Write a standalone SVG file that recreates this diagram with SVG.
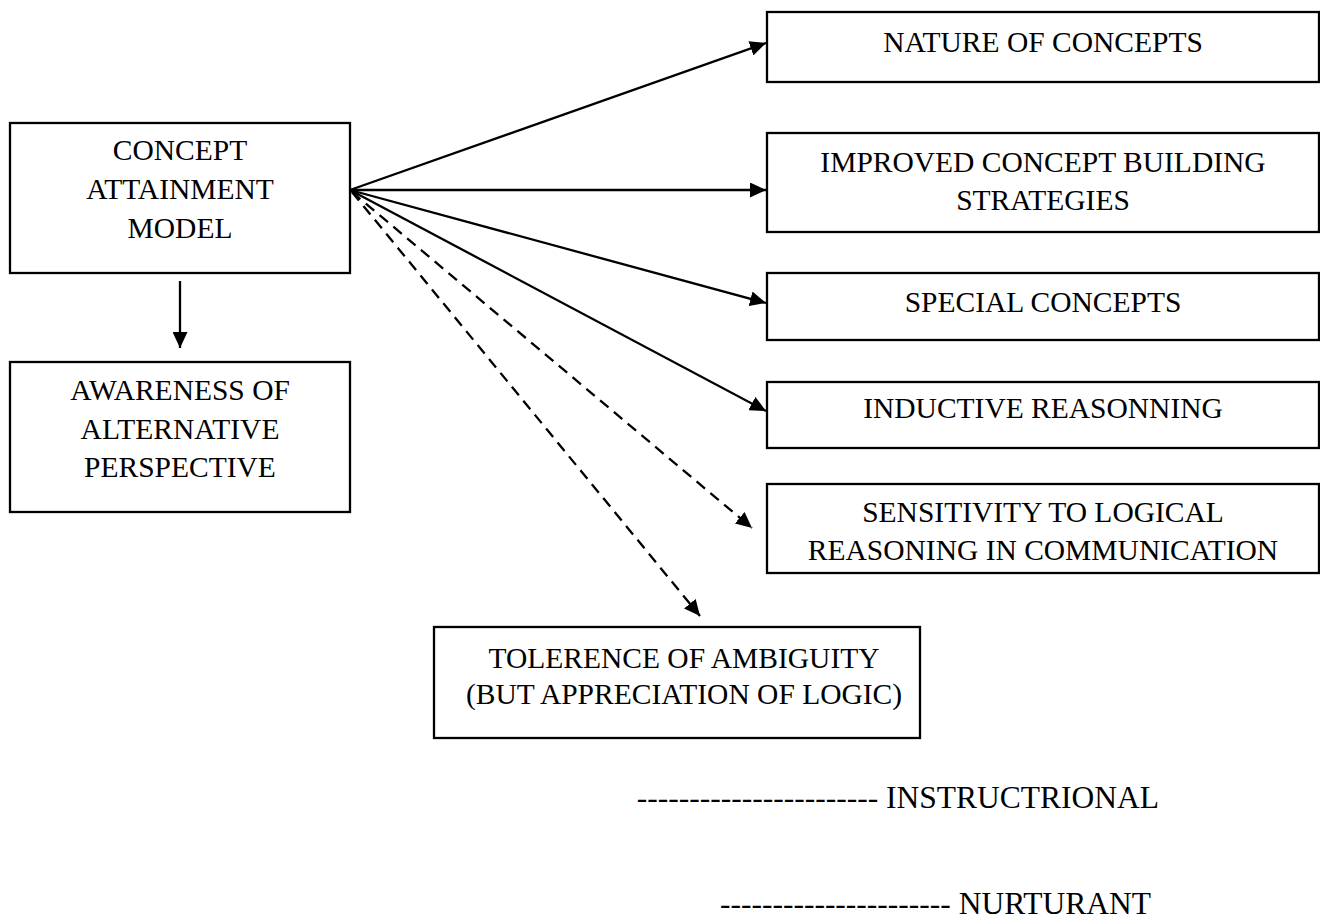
<svg xmlns="http://www.w3.org/2000/svg" width="1320" height="920" viewBox="0 0 1320 920">
  <style>
    .box { fill: #ffffff; stroke: #000000; stroke-width: 2.3; }
    .lbl { font-family: "Liberation Serif", "Times New Roman", serif; font-size: 29.5px; fill: #000000; text-anchor: middle; }
    .legend { font-family: "Liberation Serif", "Times New Roman", serif; font-size: 31.5px; fill: #000000; text-anchor: end; }
    .link { fill: none; stroke: #000000; stroke-width: 2.3; marker-end: url(#head); }
    .dashed { stroke-dasharray: 11 7; }
  </style>
  <defs>
    <marker id="head" markerUnits="userSpaceOnUse" markerWidth="17" markerHeight="15" refX="16" refY="7.5" orient="auto">
      <path d="M0,0 L16,7.5 L0,15 z" fill="#000000" stroke="none"/>
    </marker>
  </defs>

  <rect width="1320" height="920" fill="#ffffff"/>

  <!-- connectors -->
  <g id="connectors">
    <line class="link" x1="350" y1="190" x2="766" y2="43"/>
    <line class="link" x1="350" y1="190" x2="766" y2="190"/>
    <line class="link" x1="350" y1="190" x2="766" y2="303"/>
    <line class="link" x1="350" y1="190" x2="766" y2="411"/>
    <line class="link dashed" x1="352" y1="192" x2="752" y2="528"/>
    <line class="link dashed" x1="352" y1="192" x2="700" y2="616"/>
    <line class="link" x1="180" y1="281" x2="180" y2="348"/>
  </g>

  <g id="concept-attainment-model">
    <rect class="box" x="10" y="123" width="340" height="150"/>
    <text class="lbl" x="180" y="160">CONCEPT</text>
    <text class="lbl" x="180" y="199">ATTAINMENT</text>
    <text class="lbl" x="180" y="238">MODEL</text>
  </g>

  <g id="awareness">
    <rect class="box" x="10" y="362" width="340" height="150"/>
    <text class="lbl" x="180" y="400">AWARENESS OF</text>
    <text class="lbl" x="180" y="439">ALTERNATIVE</text>
    <text class="lbl" x="180" y="477">PERSPECTIVE</text>
  </g>

  <g id="nature-of-concepts">
    <rect class="box" x="767" y="12" width="552" height="70"/>
    <text class="lbl" x="1043" y="52">NATURE OF CONCEPTS</text>
  </g>

  <g id="improved-strategies">
    <rect class="box" x="767" y="133" width="552" height="99"/>
    <text class="lbl" x="1043" y="172">IMPROVED CONCEPT BUILDING</text>
    <text class="lbl" x="1043" y="210">STRATEGIES</text>
  </g>

  <g id="special-concepts">
    <rect class="box" x="767" y="273" width="552" height="67"/>
    <text class="lbl" x="1043" y="312">SPECIAL CONCEPTS</text>
  </g>

  <g id="inductive-reasoning">
    <rect class="box" x="767" y="382" width="552" height="66"/>
    <text class="lbl" x="1043" y="418">INDUCTIVE REASONNING</text>
  </g>

  <g id="sensitivity">
    <rect class="box" x="767" y="484" width="552" height="89"/>
    <text class="lbl" x="1043" y="522">SENSITIVITY TO LOGICAL</text>
    <text class="lbl" x="1043" y="560">REASONING IN COMMUNICATION</text>
  </g>

  <g id="tolerance">
    <rect class="box" x="434" y="627" width="486" height="111"/>
    <text class="lbl" x="684" y="668">TOLERENCE OF AMBIGUITY</text>
    <text class="lbl" x="684" y="704">(BUT APPRECIATION OF LOGIC)</text>
  </g>

  <!-- key -->
  <g id="legend">
    <text class="legend" x="1159" y="808">----------------------- INSTRUCTRIONAL</text>
    <text class="legend" x="1151" y="914">---------------------- NURTURANT</text>
  </g>
</svg>
